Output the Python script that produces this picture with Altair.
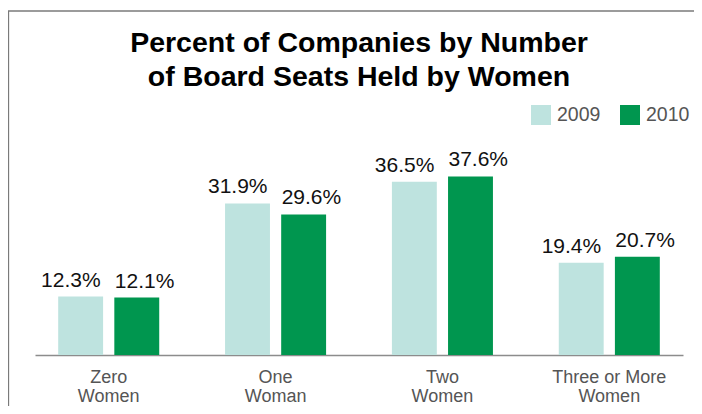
import altair as alt
import pandas as pd

categories = ["Zero Women", "One Woman", "Two Women", "Three or More Women"]
years = ["2009", "2010"]
values_2009 = [12.3, 31.9, 36.5, 19.4]
values_2010 = [12.1, 29.6, 37.6, 20.7]
title_lines = ["Percent of Companies by Number", "of Board Seats Held by Women"]
colors = ["#bee3df", "#00964f"]

rows = []
for cat, v9, v10 in zip(categories, values_2009, values_2010):
    rows.append({"category": cat, "year": "2009", "value": v9, "label": f"{v9:.1f}%"})
    rows.append({"category": cat, "year": "2010", "value": v10, "label": f"{v10:.1f}%"})
df = pd.DataFrame(rows)

FONT = "Liberation Sans"

x = alt.X(
    "category:N",
    sort=categories,
    scale=alt.Scale(paddingInner=0.3945, paddingOuter=0.139),
    axis=alt.Axis(
        title=None,
        labelAngle=0,
        ticks=False,
        domainColor="#8c8c8c",
        domainWidth=1.5,
        labelExpr="[slice(datum.value, 0, lastindexof(datum.value, ' ')), slice(datum.value, lastindexof(datum.value, ' ') + 1)]",
        labelPadding=13,
        labelLineHeight=19.5,
        labelFontSize=18,
        labelColor="#555555",
        labelFont=FONT,
    ),
)
xoff = alt.XOffset("year:N", sort=years, scale=alt.Scale(paddingInner=0.2, paddingOuter=0))
y = alt.Y("value:Q", scale=alt.Scale(domain=[0, 40]), axis=None)

base = alt.Chart(df)

bars = base.mark_bar().encode(
    x=x,
    xOffset=xoff,
    y=y,
    color=alt.Color(
        "year:N",
        scale=alt.Scale(domain=years, range=colors),
        legend=alt.Legend(
            title=None,
            orient="none",
            direction="horizontal",
            legendX=496,
            legendY=-60,
            symbolType="square",
            symbolSize=400,
            symbolStrokeWidth=0,
            symbolOpacity=1,
            labelFontSize=19.5,
            labelColor="#555555",
            labelFont=FONT,
            labelOffset=6,
            columnPadding=19,
            padding=0,
        ),
    ),
)

lab09 = base.transform_filter(alt.datum.year == "2009").mark_text(
    align="right", baseline="alphabetic", dx=20, dy=-10, fontSize=21, font=FONT, color="#111111"
).encode(x=x, xOffset=xoff, y=y, text="label:N")

lab10 = base.transform_filter(alt.datum.year == "2010").mark_text(
    align="left", baseline="alphabetic", dx=-22, dy=-10, fontSize=21, font=FONT, color="#111111"
).encode(x=x, xOffset=xoff, y=y, text="label:N")

frame_data = alt.Data(values=[{"f": 1}])
frame_top = alt.Chart(frame_data).mark_rule(color="#7a7a7a", strokeWidth=1.3).encode(
    x=alt.value(-27), x2=alt.value(659), y=alt.value(-154)
)
frame_left = alt.Chart(frame_data).mark_rule(color="#7a7a7a", strokeWidth=1.3).encode(
    x=alt.value(-26.5), y=alt.value(-154), y2=alt.value(241)
)

chart = alt.layer(frame_top, frame_left, bars, lab09, lab10).properties(
    width=648,
    height=190,
    padding={"left": 27, "top": 157, "right": 11, "bottom": 51},
    autosize=alt.AutoSizeParams(type="none"),
    title=alt.TitleParams(
        text=title_lines,
        fontSize=28.5,
        font=FONT,
        fontWeight="bold",
        color="#000000",
        lineHeight=33.5,
        anchor="middle",
        baseline="alphabetic",
        offset=-104,
    ),
).configure_view(stroke=None)

chart.save("out.html", embed_options={"renderer": "svg", "actions": False})
